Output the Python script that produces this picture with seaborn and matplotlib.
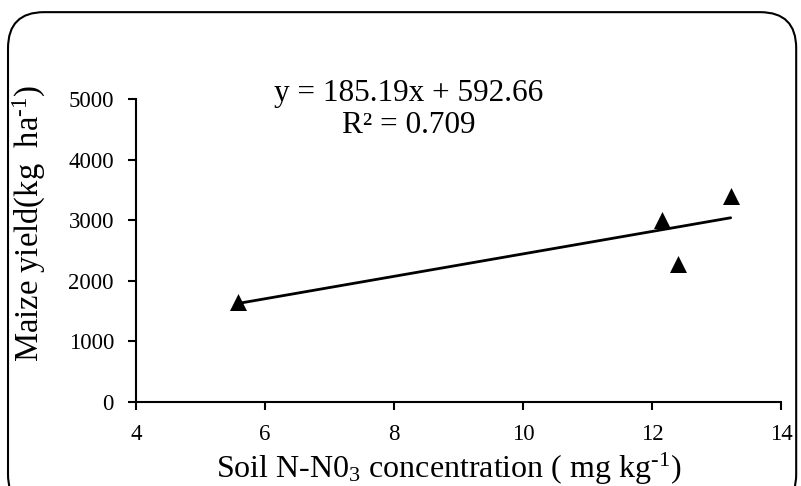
import matplotlib
matplotlib.use("Agg")
import matplotlib.pyplot as plt
from matplotlib.patches import FancyBboxPatch
import seaborn as sns
import numpy as np
import pandas as pd

# Data
soil_n = [5.58, 12.15, 12.4, 13.22]
yield_kg = [1650, 3000, 2280, 3400]
slope = 185.19
intercept = 592.66
x_ticks = [4, 6, 8, 10, 12, 14]
y_ticks = [0, 1000, 2000, 3000, 4000, 5000]

sns.set_theme(style="white")
plt.rcParams['font.family'] = ['Liberation Serif', 'DejaVu Serif']
plt.rcParams['mathtext.fontset'] = 'custom'
plt.rcParams['mathtext.rm'] = 'Liberation Serif'
plt.rcParams['mathtext.it'] = 'Liberation Serif:italic'

df = pd.DataFrame({"x": soil_n, "y": yield_kg})
xl = np.array([min(soil_n), max(soil_n)])
line_df = pd.DataFrame({"x": xl, "y": slope * xl + intercept})

fig = plt.figure(figsize=(8.01, 4.86), dpi=100)
ax = fig.add_axes([0.170, 0.173, 0.805, 0.623])

sns.lineplot(data=line_df, x="x", y="y", ax=ax, color="black", lw=2, zorder=2)
sns.scatterplot(data=df, x="x", y="y", ax=ax, marker="^", s=150, color="black",
                edgecolor="black", linewidth=0, zorder=3)

ax.set_xlim(4, 14)
ax.set_ylim(0, 5000)
ax.set_xticks(x_ticks)
ax.set_yticks(y_ticks)
ax.tick_params(axis="both", direction="out", length=6, width=1.5, color="black",
               labelsize=16.5, labelcolor="black", pad=10, bottom=True, left=True)
for s in ["top", "right"]:
    ax.spines[s].set_visible(False)
for s in ["left", "bottom"]:
    ax.spines[s].set_color("black")
    ax.spines[s].set_linewidth(1.5)

ax.set_xlabel(r"Soil N-N0$_3$ concentration ( mg kg$^{\text{-}1}$)", fontsize=23, color="black", labelpad=4)
ax.xaxis.label.set_x(0.484)
ax.set_ylabel(r"Maize yield(kg  ha$^{\text{-}1}$)", fontsize=23.5, color="black")
ax.yaxis.set_label_coords(-0.137, 0.59)

fig.text(0.51, 0.808, "y = 185.19x + 592.66", ha="center", va="center", fontsize=22.5, color="black")
fig.text(0.51, 0.742, "R² = 0.709", ha="center", va="center", fontsize=22.5, color="black")

border = FancyBboxPatch((0.010, -0.05), 0.984, 1.025, boxstyle="round,pad=0,rounding_size=0.045",
                        transform=fig.transFigure, fill=False, edgecolor="black", linewidth=1.5,
                        mutation_aspect=801/486)
fig.patches.append(border)

fig.savefig("out.png", dpi=100)
